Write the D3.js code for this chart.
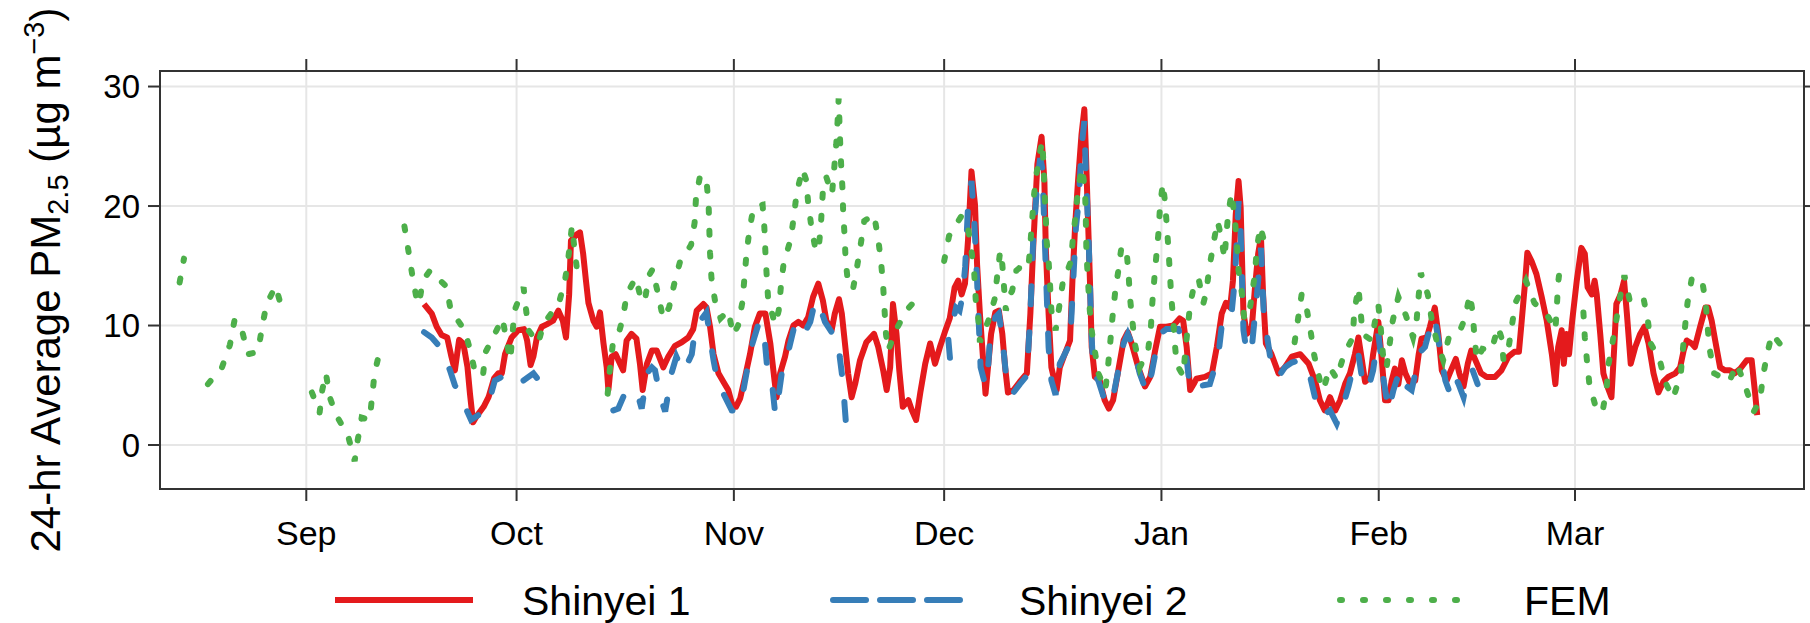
<!DOCTYPE html>
<html>
<head>
<meta charset="utf-8">
<script src="https://cdn.jsdelivr.net/npm/d3@7"></script>
<style>
  body { margin: 0; background: #fff; }
  text { font-family: "Liberation Sans", Arial, sans-serif; fill: #000; }
</style>
</head>
<body>
<div id="chart"></div>
<script>
// days counted from 2012-09-01, values are 24-hr average PM2.5 (ug m-3)
// a pair with null value breaks the line
const startDate = "2012-09-01";

const shinyei1 = [
  [16.8, 11.8], [17.9, 11.0], [18.6, 9.9], [19.3, 9.2], [20.1, 9.0], [20.7, 7.4], [21.2, 6.25], [21.8, 8.8],
  [22.4, 8.5], [23.0, 6.5], [23.35, 4.3], [23.8, 1.9], [24.3, 2.4], [25.3, 3.2], [26.0, 4.0], [26.8, 5.6],
  [27.4, 6.0], [27.9, 6.0], [28.35, 7.6], [29.3, 9.0], [30.25, 9.6], [31.06, 9.7], [31.5, 8.75], [32.0, 6.7],
  [32.4, 7.4], [32.9, 9.0], [33.6, 9.9], [34.3, 10.1], [35.2, 10.4], [35.96, 11.25], [36.6, 10.4], [37.05, 9.0],
  [37.5, 12.6], [37.76, 17.1], [38.5, 17.6], [39.05, 17.8], [39.5, 16.0], [39.9, 13.75], [40.25, 11.9], [40.96, 10.4],
  [41.43, 9.9], [41.9, 11.1], [42.4, 8.5], [42.86, 6.5], [43.1, 4.6], [43.57, 7.4], [44.14, 7.6], [44.76, 6.8],
  [45.2, 6.25], [45.7, 8.75], [46.4, 9.3], [47.1, 8.9], [47.6, 6.8], [47.99, 4.6], [48.6, 6.8], [49.3, 7.9],
  [50.0, 7.9], [50.94, 6.5], [51.65, 7.4], [52.6, 8.3], [53.56, 8.6], [54.5, 9.0], [55.2, 9.7], [55.7, 11.25],
  [56.65, 11.8], [57.1, 11.5], [57.6, 9.9], [58.1, 7.6], [58.8, 6.0], [59.5, 5.3], [60.2, 4.6], [60.8, 3.3],
  [61.3, 3.2], [61.9, 3.9], [62.6, 5.7], [63.3, 7.6], [64.0, 9.9], [64.7, 11.0], [65.5, 11.0], [66.2, 8.5],
  [66.8, 5.4], [67.1, 4.0], [67.6, 6.0], [68.3, 7.4], [68.8, 8.75], [69.5, 10.0], [70.2, 10.3], [70.9, 10.0],
  [71.6, 10.7], [72.3, 12.4], [73.05, 13.5], [73.7, 12.1], [74.2, 10.4], [74.95, 9.6], [75.4, 11.0], [76.0, 12.2],
  [76.4, 11.0], [76.85, 8.5], [77.3, 6.0], [77.8, 4.0], [78.3, 5.1], [79.0, 7.1], [79.9, 8.6], [81.0, 9.3],
  [81.6, 8.2], [82.3, 6.25], [82.8, 4.6], [83.3, 6.5], [83.7, 11.8], [84.2, 9.3], [84.6, 6.25], [85.1, 3.2],
  [85.9, 3.75], [86.4, 2.9], [87.0, 2.1], [87.6, 4.4], [88.3, 6.8], [89.0, 8.5], [89.7, 6.8], [90.4, 8.2],
  [91.1, 9.45], [91.8, 10.6], [92.5, 13.2], [93.0, 13.75], [93.5, 12.6], [93.97, 13.5], [94.4, 17.1], [94.9, 22.9],
  [95.4, 20.1], [95.7, 15.1], [96.1, 11.0], [96.6, 6.8], [96.9, 4.3], [97.7, 9.3], [98.3, 11.1], [98.8, 11.25],
  [99.3, 9.3], [99.7, 6.5], [100.1, 4.4], [100.9, 4.6], [101.8, 5.3], [102.8, 6.0], [103.3, 11.0], [103.7, 16.5],
  [104.3, 23.5], [104.9, 25.8], [105.3, 22.1], [105.5, 16.5], [105.9, 11.0], [106.3, 6.5], [107.05, 4.6], [107.5, 6.5],
  [108.2, 7.6], [108.96, 8.75], [109.3, 13.75], [109.7, 18.5], [110.1, 22.1], [110.6, 26.0], [111.0, 28.1], [111.2, 24.9],
  [111.5, 19.3], [111.8, 13.75], [112.05, 8.2], [112.5, 5.7], [113.2, 5.4], [113.9, 3.75], [114.5, 3.05], [115.1, 3.75],
  [115.85, 6.25], [116.6, 8.75], [117.2, 9.45], [117.75, 8.5], [118.7, 6.5], [119.65, 4.9], [120.4, 5.7], [121.1, 7.9],
  [121.8, 9.9], [122.7, 9.9], [123.7, 10.0], [124.6, 10.6], [125.1, 10.4], [125.6, 8.2], [126.1, 4.6], [126.6, 5.1],
  [127.0, 5.55], [128.2, 5.7], [129.2, 6.0], [129.9, 8.2], [130.6, 11.0], [131.2, 11.9], [131.8, 11.5], [132.2, 13.75],
  [132.6, 19.3], [133.0, 22.1], [133.3, 19.9], [133.7, 11.0], [134.2, 9.3], [134.9, 9.9], [135.35, 13.2], [135.8, 16.0],
  [136.2, 17.4], [136.5, 12.6], [136.9, 8.5], [137.7, 7.6], [138.7, 6.0], [139.6, 6.5], [140.6, 7.4], [141.8, 7.6],
  [143.0, 6.8], [143.9, 5.4], [144.6, 3.75], [145.3, 2.9], [146.05, 4.0], [146.8, 2.9], [147.5, 3.75], [148.2, 5.1],
  [148.9, 6.0], [149.6, 7.6], [150.1, 9.0], [150.6, 7.1], [151.05, 5.3], [151.8, 5.7], [152.2, 7.6], [152.95, 10.3],
  [153.4, 7.4], [153.9, 3.75], [154.4, 3.75], [154.85, 5.4], [155.3, 6.4], [155.8, 5.1], [156.3, 7.1], [156.8, 6.0],
  [157.5, 5.1], [158.2, 5.4], [158.7, 7.6], [159.1, 8.9], [159.85, 9.0], [160.3, 9.9], [161.0, 11.5], [161.5, 9.3],
  [162.0, 6.25], [162.7, 5.4], [163.3, 6.25], [164.0, 7.2], [164.5, 6.0], [165.1, 4.9], [165.7, 6.8], [166.2, 7.9],
  [166.8, 7.1], [167.6, 6.0], [168.4, 5.7], [169.6, 5.7], [170.5, 6.25], [171.5, 7.4], [172.35, 7.8], [173.0, 7.8],
  [173.4, 10.4], [173.9, 13.75], [174.2, 16.1], [174.8, 15.4], [175.5, 14.3], [176.25, 12.4], [176.97, 10.4], [177.7, 7.6],
  [178.2, 5.1], [178.6, 8.2], [179.1, 9.6], [179.4, 6.8], [179.8, 9.3], [180.15, 7.6], [180.6, 10.4], [181.25, 13.75],
  [181.9, 16.5], [182.4, 16.0], [182.8, 13.2], [183.4, 12.6], [183.8, 13.75], [184.1, 12.6], [184.6, 9.3], [185.05, 6.0],
  [185.5, 5.1], [186.2, 4.0], [186.6, 8.2], [186.9, 11.8], [187.5, 12.6], [188.0, 13.75], [188.4, 11.0], [188.95, 6.8],
  [189.6, 8.2], [190.3, 9.3], [190.9, 9.9], [191.5, 8.5], [192.2, 6.0], [192.9, 4.4], [193.6, 5.3], [194.3, 5.7],
  [195.3, 6.0], [196.0, 6.5], [196.5, 7.9], [196.95, 8.75], [197.65, 8.5], [198.1, 8.2], [198.85, 9.9], [199.6, 11.5],
  [200.0, 11.5], [200.5, 10.4], [201.0, 8.75], [201.7, 6.5], [202.4, 6.25], [203.1, 6.25], [203.8, 6.0], [204.6, 6.4],
  [205.5, 7.1], [206.2, 7.1], [206.7, 4.3], [207.0, 2.5]
];

const shinyei2 = [
  [16.8, 9.45], [17.9, 9.0], [19.3, 8.05], [20.5, 6.25], [21.2, 5.0], [21.9, 4.2], [23.5, 2.1], [24.8, 2.6],
  [26.0, 3.5], [26.9, 5.4], [27.9, 5.7], [28.6, 5.1], [29.5, 5.0], [31.0, 5.4], [32.4, 6.0], [33.3, 5.3],
  [33.4, null],
  [43.8, 2.9], [44.5, 3.05], [45.5, 4.4], [47.1, 4.6], [47.85, 3.05], [48.6, 6.0], [49.3, 6.5], [49.75, 6.25],
  [50.5, 4.0], [51.2, 2.8], [52.1, 6.0], [52.8, 7.4], [53.8, 6.1], [55.0, 7.6], [55.5, 9.9], [56.2, 10.4],
  [57.1, 11.1], [57.6, 9.0], [58.1, 7.1], [58.8, 4.9], [59.5, 4.3], [60.7, 2.9], [61.4, 2.8], [62.1, 3.75],
  [62.8, 6.0], [63.5, 8.2], [64.5, 10.1], [65.2, 10.1], [65.7, 6.8], [66.4, 5.4], [66.9, 2.6], [67.4, 4.2],
  [67.9, 6.3], [68.8, 7.9], [69.7, 10.1], [70.9, 9.2], [71.9, 10.3], [72.6, 12.1], [73.3, 11.5], [74.0, 10.3],
  [75.0, 9.4], [75.9, 9.0], [76.1, 7.4], [76.6, 5.1], [76.8, 3.3], [77.1, 1.0],
  [77.2, null],
  [91.6, 8.8], [91.9, 6.8],
  [92.0, null],
  [92.5, 11.0], [92.7, 11.5], [93.2, 11.25], [93.6, 12.4], [94.0, 14.9], [94.4, 19.9], [94.9, 22.1], [95.3, 18.75],
  [95.7, 13.75], [96.2, 6.5], [96.7, 5.4], [97.1, 5.0], [97.5, 8.5], [98.3, 10.7], [98.8, 11.0], [99.3, 9.0],
  [99.8, 6.0], [100.2, 4.4], [100.9, 4.4], [101.8, 5.1], [102.8, 5.8], [103.3, 11.0], [103.7, 17.1], [104.3, 22.1],
  [104.7, 24.0], [105.0, 23.2], [105.4, 16.5], [105.9, 8.2], [106.3, 5.4], [106.9, 4.2], [107.5, 6.8], [108.2, 7.6],
  [108.96, 8.5], [109.3, 12.4], [109.8, 18.2], [110.2, 20.4], [110.6, 24.9], [111.0, 27.1], [111.2, 23.2], [111.6, 17.4],
  [112.0, 9.6], [112.3, 6.0], [113.0, 5.4], [113.9, 3.75], [114.5, 3.3], [115.1, 4.0], [115.85, 6.25], [116.6, 8.5],
  [117.2, 9.3], [118.0, 8.2], [118.9, 6.0], [119.9, 4.4], [120.6, 6.0], [121.3, 8.2], [121.8, 9.3], [122.7, 9.7],
  [124.4, 9.7], [125.4, 8.2], [126.1, 4.6], [127.0, 4.9], [128.0, 5.0], [128.9, 5.1], [130.1, 7.4], [130.8, 11.0],
  [131.4, 11.0], [132.0, 11.0], [132.5, 14.0], [133.0, 20.4], [133.3, 17.9], [133.7, 9.6], [134.2, 7.6], [134.9, 8.2],
  [135.6, 12.4], [136.2, 16.5], [136.6, 11.0], [137.5, 7.4], [138.7, 5.7], [139.6, 6.5], [140.6, 6.9], [141.8, 7.1],
  [143.0, 6.25], [143.9, 4.0], [144.9, 2.4], [146.05, 2.9], [147.0, 1.8], [147.7, 2.9], [148.7, 4.9], [149.6, 7.1],
  [150.1, 7.6], [150.8, 4.9], [151.5, 4.7], [152.2, 6.25], [152.95, 9.3], [153.7, 5.4], [154.4, 2.9], [155.1, 4.6],
  [155.6, 5.5], [156.3, 6.25], [157.0, 4.9], [157.7, 4.6], [158.4, 6.5], [159.1, 7.9], [159.6, 8.2], [160.6, 10.4],
  [161.0, 10.7], [161.75, 7.9], [162.5, 5.4], [163.0, 4.6], [163.65, 6.0], [164.4, 5.1], [165.1, 4.0], [165.8, 6.0],
  [166.4, 6.25], [167.1, 5.1]
];

const fem = [
  [-18.07, 13.6], [-17.45, 15.6],
  [-16.0, null],
  [-14.03, 5.1], [-12.03, 6.5], [-10.89, 8.4], [-10.22, 10.5], [-9.18, 9.6], [-8.32, 7.6], [-6.9, 7.8], [-6.32, 9.8],
  [-5.7, 11.75], [-4.37, 13.3], [-3.57, 11.6],
  [-2.0, null],
  [0.8, 4.4], [1.9, 2.7], [2.28, 4.6], [2.8, 6.0], [3.35, 4.0], [4.27, 2.5], [5.95, 0.8], [6.9, -1.35],
  [7.3, 0.3], [7.9, 2.3], [9.04, 2.1], [9.4, 4.1], [9.75, 6.05], [10.63, 8.2],
  [12.0, null],
  [14.0, 18.3], [14.56, 16.3], [15.1, 14.3], [15.75, 12.2], [16.1, 11.8], [16.6, 13.75], [17.65, 14.6], [20.0, 13.25],
  [20.6, 11.3], [22.6, 9.6], [23.4, 7.9], [24.1, 6.0], [25.2, 5.8], [25.6, 7.8], [28.0, 10.6], [28.6, 8.6],
  [29.1, 7.1], [29.7, 11.25], [31.0, 13.2], [31.3, 11.6], [31.7, 9.6], [33.1, 8.5], [33.8, 10.1], [36.05, 11.9],
  [36.9, 13.75], [37.4, 15.75], [37.9, 18.3], [38.3, 16.25], [38.7, 14.3],
  [39.0, null],
  [43.0, 4.3], [43.3, 6.25], [43.7, 8.3], [44.5, 9.2], [45.2, 10.7], [45.7, 12.6], [47.0, 14.0], [47.85, 12.0],
  [48.3, 12.1], [48.9, 14.2], [49.4, 14.7], [50.2, 12.6], [50.9, 10.6], [51.75, 11.5], [52.5, 13.5], [53.3, 15.3],
  [54.9, 16.75], [55.4, 18.6], [55.6, 20.7], [56.2, 22.6], [57.1, 22.1], [57.4, 20.1], [57.5, 18.05], [57.6, 16.1],
  [57.8, 14.0], [58.3, 12.1], [59.1, 10.6], [60.2, 11.25], [60.9, 9.2], [61.6, 10.0], [62.2, 11.9], [62.5, 13.9],
  [62.8, 16.0], [63.2, 17.9], [63.8, 19.9], [65.1, 20.1], [65.35, 18.2], [65.5, 16.1], [65.7, 14.0], [65.9, 12.1],
  [66.9, 10.1], [67.4, 11.25], [67.7, 13.2], [68.1, 15.2], [69.1, 17.2], [69.6, 19.3], [69.96, 21.1], [70.8, 23.1],
  [71.3, 22.2], [71.6, 20.3], [72.0, 18.5], [72.6, 16.5], [73.05, 16.2], [73.4, 18.25], [73.6, 20.3], [73.8, 22.2],
  [74.2, 22.4], [75.0, 21.0], [75.3, 23.05], [75.6, 25.1], [75.8, 27.1], [75.95, 29.0], [76.14, 25.7], [76.3, 23.5],
  [76.5, 21.4], [76.6, 19.4], [76.8, 17.5], [76.95, 15.4], [77.3, 13.5], [78.0, 13.05], [78.6, 15.0], [79.1, 16.8],
  [79.6, 18.75], [81.0, 19.3], [81.6, 17.2], [82.0, 15.3], [82.3, 13.3], [82.5, 11.25], [82.7, 9.3], [83.0, 7.9],
  [84.2, 9.7], [85.6, 11.25], [87.5, 12.5],
  [88.0, null],
  [91.0, 15.4], [91.7, 17.5], [93.5, 19.2], [94.4, 18.2], [94.9, 16.25], [95.3, 14.3], [95.5, 12.2], [95.9, 10.4],
  [96.1, 8.6], [97.3, 10.4], [98.2, 12.2], [98.6, 14.3], [99.0, 16.25], [99.3, 15.1], [99.8, 11.25], [100.4, 12.6],
  [100.7, 12.9], [101.3, 14.6], [101.7, 14.8], [103.0, 14.7], [103.3, 16.8], [103.8, 20.8], [104.2, 22.8], [104.7, 24.6],
  [105.0, 25.4], [105.2, 23.2], [105.3, 21.4], [105.5, 19.2], [105.6, 17.2], [105.9, 15.4], [106.1, 13.5], [106.3, 11.25],
  [106.9, 9.6], [107.4, 11.5], [107.9, 13.5], [109.1, 15.4], [109.4, 17.5], [109.8, 19.4], [110.1, 21.5], [110.7, 23.2],
  [111.1, 21.25], [111.2, 19.3], [111.3, 16.0], [111.5, 14.0], [111.7, 11.9], [111.96, 9.9], [113.0, 6.0], [114.0, 4.6],
  [114.4, 6.7], [114.7, 8.6], [115.0, 10.6], [115.4, 12.8], [115.85, 14.6], [116.3, 16.6], [117.0, 16.4], [117.3, 14.4],
  [117.5, 12.4], [117.85, 10.4], [118.2, 8.5], [118.9, 6.5], [120.1, 7.9], [120.5, 9.9], [120.7, 11.9], [121.0, 14.0],
  [121.3, 16.0], [121.6, 17.9], [121.8, 20.0], [122.2, 21.9], [122.5, 20.4], [122.75, 18.5], [123.0, 16.4], [123.2, 14.4],
  [123.4, 12.4], [123.7, 10.4], [123.9, 8.5], [124.2, 6.7], [125.1, 5.8], [125.4, 7.8], [126.1, 11.8], [126.8, 13.75],
  [127.3, 13.9], [128.0, 11.9], [128.4, 12.8], [128.8, 14.7], [129.4, 16.8], [130.0, 18.75], [130.5, 17.5], [131.0, 15.6],
  [131.2, 17.2], [131.5, 19.2], [132.0, 21.1], [132.5, 18.75], [132.8, 16.5], [133.0, 14.6], [133.5, 12.6], [133.8, 10.6],
  [134.4, 10.6], [134.9, 12.5], [135.35, 14.4], [135.6, 16.4], [136.1, 18.3], [137.0, 16.25],
  [138.0, null],
  [141.0, 8.6], [141.5, 10.6], [142.0, 12.6], [142.7, 11.5], [143.3, 9.45], [143.8, 7.5], [144.6, 5.4], [145.1, 4.6],
  [146.0, 6.5], [147.0, 5.55], [148.05, 7.6], [149.3, 9.0], [149.5, 11.1], [150.1, 13.2], [150.4, 11.25], [150.7, 9.3],
  [152.0, 8.75], [152.6, 10.8], [152.95, 11.7], [153.3, 9.7], [153.6, 7.6], [154.1, 6.4], [154.5, 8.2], [155.0, 10.4],
  [155.8, 12.4], [156.9, 10.8], [157.9, 9.0], [158.4, 10.4], [158.7, 12.5], [159.0, 14.4], [160.0, 12.6], [160.5, 10.7],
  [161.3, 8.6], [162.2, 7.1], [163.0, 9.0], [164.5, 9.45], [165.3, 10.6], [166.0, 12.6], [166.4, 11.1], [166.65, 9.1],
  [167.0, 7.1], [167.8, 8.05], [169.1, 7.9], [170.0, 9.9], [170.5, 9.0], [170.8, 7.1], [171.5, 8.05], [172.0, 10.0],
  [172.5, 11.9], [174.0, 13.75], [175.2, 11.9], [177.2, 10.7], [178.2, 9.6], [178.4, 11.5], [178.6, 13.6], [179.0, 15.6],
  [180.0, null],
  [182.2, 11.1], [182.4, 9.0], [182.7, 7.1], [183.05, 5.1], [183.9, 3.3], [184.9, 2.7], [185.5, 4.7], [185.8, 6.8],
  [186.4, 8.75], [186.96, 10.7], [187.5, 12.6], [188.05, 14.2], [188.8, 12.1], [190.05, 11.9], [190.8, 12.2], [191.4, 10.4],
  [191.8, 8.5], [193.05, 7.2], [193.85, 5.3], [195.0, 3.9], [196.1, 6.0], [196.4, 8.05], [196.7, 9.9], [197.05, 11.9],
  [197.65, 13.9], [199.1, 13.9], [199.65, 11.9], [199.9, 10.0], [200.2, 8.05], [200.85, 6.0], [203.0, 5.3], [204.1, 6.8],
  [205.3, 4.9], [206.5, 2.8], [207.4, 3.75], [207.8, 5.7], [208.4, 7.6], [209.1, 9.3], [210.2, 8.5]
];

const monthTicks = ["2012-09-01", "2012-10-01", "2012-11-01", "2012-12-01", "2013-01-01", "2013-02-01", "2013-03-01"];
const monthLabels = ["Sep", "Oct", "Nov", "Dec", "Jan", "Feb", "Mar"];
const yTicks = [0, 10, 20, 30];
const seriesNames = ["Shinyei 1", "Shinyei 2", "FEM"];

const colS1 = "#E41A1C", colS2 = "#377EB8", colFem = "#4DAF4A";
const width = 1810, height = 623;
const panel = { left: 160, right: 1804, top: 71, bottom: 489 };

const t0 = d3.isoParse(startDate + "T00:00:00");
const toDate = d => new Date(t0.getTime() + d * 864e5);

const x = d3.scaleTime()
  .domain([toDate(-20.87), toDate(213.67)])
  .range([panel.left, panel.right]);

const y = d3.scaleLinear()
  .domain([-3.68, 31.3])
  .range([panel.bottom, panel.top]);

const svg = d3.select("#chart")
  .append("svg")
  .attr("width", width)
  .attr("height", height);

const ticksX = monthTicks.map(s => d3.isoParse(s + "T00:00:00"));

// grid
svg.append("g").selectAll("line")
  .data(ticksX)
  .enter().append("line")
  .attr("x1", d => x(d)).attr("x2", d => x(d))
  .attr("y1", panel.top).attr("y2", panel.bottom)
  .attr("stroke", "#e6e6e6").attr("stroke-width", 2);

svg.append("g").selectAll("line")
  .data(yTicks)
  .enter().append("line")
  .attr("x1", panel.left).attr("x2", panel.right)
  .attr("y1", d => y(d)).attr("y2", d => y(d))
  .attr("stroke", "#e6e6e6").attr("stroke-width", 2);

const line = d3.line()
  .defined(d => d[1] != null)
  .x(d => x(toDate(d[0])))
  .y(d => y(d[1]));

svg.append("path")
  .datum(shinyei1)
  .attr("d", line)
  .attr("fill", "none")
  .attr("stroke", colS1)
  .attr("stroke-width", 6)
  .attr("stroke-linejoin", "round");

svg.append("path")
  .datum(shinyei2)
  .attr("d", line)
  .attr("fill", "none")
  .attr("stroke", colS2)
  .attr("stroke-width", 6)
  .attr("stroke-linecap", "round")
  .attr("stroke-dasharray", "18 28");

svg.append("path")
  .datum(fem)
  .attr("d", line)
  .attr("fill", "none")
  .attr("stroke", colFem)
  .attr("stroke-width", 6)
  .attr("stroke-linecap", "round")
  .attr("stroke-dasharray", "4 18");

// panel border
svg.append("rect")
  .attr("x", panel.left).attr("y", panel.top)
  .attr("width", panel.right - panel.left)
  .attr("height", panel.bottom - panel.top)
  .attr("fill", "none")
  .attr("stroke", "#333").attr("stroke-width", 2);

// ticks on all four sides
const tickLen = 12;
const tk = svg.append("g").attr("stroke", "#333").attr("stroke-width", 2);
tk.selectAll(".tb").data(ticksX).enter().append("line")
  .attr("x1", d => x(d)).attr("x2", d => x(d))
  .attr("y1", panel.bottom).attr("y2", panel.bottom + tickLen);
tk.selectAll(".tt").data(ticksX).enter().append("line")
  .attr("x1", d => x(d)).attr("x2", d => x(d))
  .attr("y1", panel.top).attr("y2", panel.top - tickLen);
tk.selectAll(".tl").data(yTicks).enter().append("line")
  .attr("x1", panel.left - tickLen).attr("x2", panel.left)
  .attr("y1", d => y(d)).attr("y2", d => y(d));
tk.selectAll(".tr").data(yTicks).enter().append("line")
  .attr("x1", panel.right).attr("x2", panel.right + tickLen)
  .attr("y1", d => y(d)).attr("y2", d => y(d));

// tick labels
svg.append("g").selectAll("text")
  .data(yTicks)
  .enter().append("text")
  .attr("x", panel.left - 20)
  .attr("y", d => y(d))
  .attr("dy", "0.35em")
  .attr("text-anchor", "end")
  .attr("font-size", "33px")
  .text(d => d);

svg.append("g").selectAll("text")
  .data(ticksX)
  .enter().append("text")
  .attr("x", d => x(d))
  .attr("y", 545)
  .attr("text-anchor", "middle")
  .attr("font-size", "34px")
  .text((d, i) => monthLabels[i]);

// y axis title
const title = svg.append("text")
  .attr("transform", "translate(60," + (panel.top + panel.bottom) / 2 + ") rotate(-90)")
  .attr("text-anchor", "middle")
  .attr("font-size", "42px");
title.append("tspan").text("24-hr Average PM");
title.append("tspan").attr("font-size", "29px").attr("dy", "8").text("2.5");
title.append("tspan").attr("dy", "-8").text(" (\u00b5g m");
title.append("tspan").attr("font-size", "29px").attr("dy", "-16").text("\u22123");
title.append("tspan").attr("dy", "16").text(")");

// legend
const legendY = 600;
const legendItems = [
  { name: seriesNames[0], color: colS1, dash: null, x1: 335, x2: 473, tx: 522 },
  { name: seriesNames[1], color: colS2, dash: "33 14", x1: 833, x2: 964, tx: 1019 },
  { name: seriesNames[2], color: colFem, dash: "2 21", x1: 1340, x2: 1468, tx: 1524 }
];

const lg = svg.append("g").selectAll("g")
  .data(legendItems)
  .enter().append("g");

lg.append("line")
  .attr("x1", d => d.x1).attr("x2", d => d.x2)
  .attr("y1", legendY).attr("y2", legendY)
  .attr("stroke", d => d.color)
  .attr("stroke-width", 6)
  .attr("stroke-linecap", d => d.dash ? "round" : "butt")
  .attr("stroke-dasharray", d => d.dash);

lg.append("text")
  .attr("x", d => d.tx)
  .attr("y", legendY)
  .attr("dy", "0.36em")
  .attr("font-size", "41px")
  .text(d => d.name);
</script>
</body>
</html>
